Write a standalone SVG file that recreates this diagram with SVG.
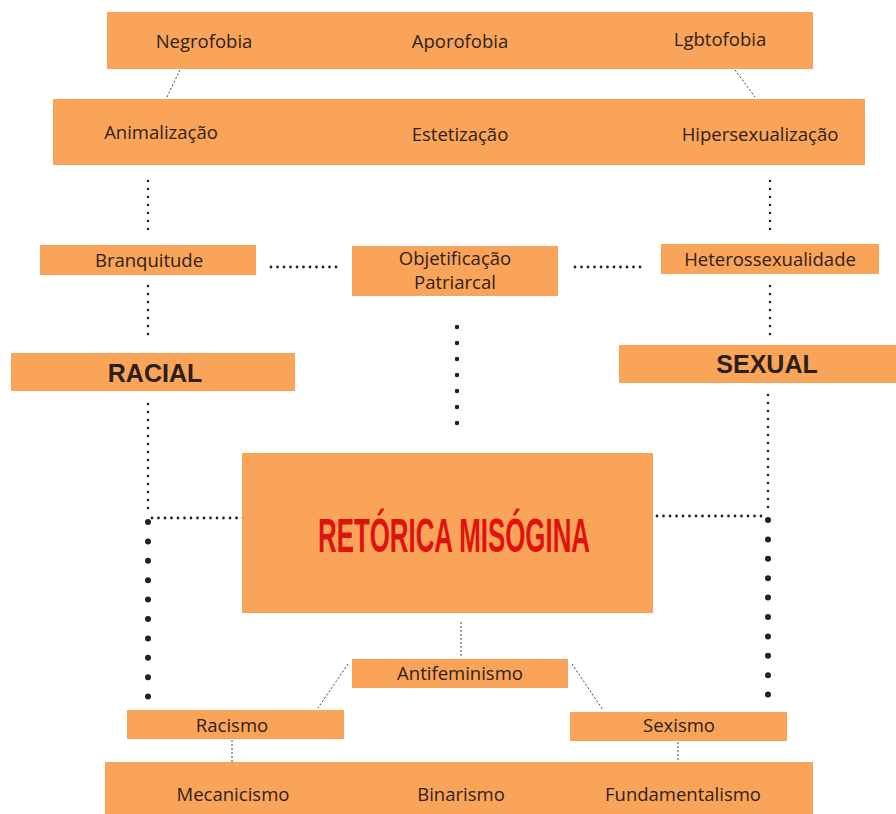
<svg xmlns="http://www.w3.org/2000/svg" width="896" height="814" viewBox="0 0 896 814">
<style>
.box{fill:#FAA45A}
.t{font-family:"Open Sans","Liberation Sans",sans-serif;font-size:18.5px;fill:#2e2218;text-anchor:middle}
.big{font-family:"Liberation Sans",Arial,sans-serif;font-weight:bold;font-size:25px;fill:#2a2018;text-anchor:middle}
.thin{stroke:#444;stroke-width:1;stroke-dasharray:2 2;fill:none}
.sm{stroke:#222;stroke-width:2.6;stroke-linecap:round;stroke-dasharray:0 8;fill:none}
.smh{stroke:#222;stroke-width:2.8;stroke-linecap:round;stroke-dasharray:0 6.5;fill:none}
.md{stroke:#222;stroke-width:4.5;stroke-linecap:round;stroke-dasharray:0 16;fill:none}
.lg{stroke:#222;stroke-width:6;stroke-linecap:round;stroke-dasharray:0 19.4;fill:none}
</style>
<rect width="896" height="814" fill="#ffffff"/>
<g id="connectors">
<line class="thin" x1="180" y1="70" x2="167" y2="97"/>
<line class="thin" x1="735" y1="70" x2="755" y2="97"/>
<line class="sm" x1="148" y1="181" x2="148" y2="231"/>
<line class="sm" x1="770" y1="181" x2="770" y2="231"/>
<line class="smh" x1="271" y1="267" x2="339" y2="267"/>
<line class="smh" x1="575" y1="267" x2="642" y2="267"/>
<line class="sm" x1="148" y1="286" x2="148" y2="336"/>
<line class="sm" x1="770" y1="286" x2="770" y2="336"/>
<line class="md" x1="457" y1="327" x2="457" y2="424"/>
<line class="sm" x1="148" y1="404" x2="148" y2="514"/>
<line class="smh" x1="152" y1="518" x2="244" y2="518"/>
<line class="lg" x1="148" y1="522" x2="148" y2="698"/>
<line class="sm" x1="768" y1="395" x2="768" y2="513"/>
<line class="smh" x1="657" y1="516" x2="764" y2="516"/>
<line class="lg" x1="768" y1="520" x2="768" y2="696"/>
<line class="thin" x1="461" y1="622" x2="461" y2="656"/>
<line class="thin" x1="348" y1="664" x2="318" y2="708"/>
<line class="thin" x1="572" y1="664" x2="603" y2="710"/>
<line class="thin" x1="232" y1="740" x2="232" y2="762"/>
<line class="thin" x1="678" y1="742" x2="678" y2="762"/>
</g>
<g id="top"><rect class="box" x="107" y="12" width="706" height="57"/>
<text class="t" x="204" y="48">Negrofobia</text><text class="t" x="460" y="48">Aporofobia</text><text class="t" x="720" y="46">Lgbtofobia</text></g>
<g id="second"><rect class="box" x="53" y="99" width="812" height="66"/>
<text class="t" x="161" y="139">Animalização</text><text class="t" x="460" y="141">Estetização</text><text class="t" x="760" y="141">Hipersexualização</text></g>
<g id="branquitude"><rect class="box" x="40" y="245" width="216" height="30"/><text class="t" x="149" y="267">Branquitude</text></g>
<g id="objetificacao"><rect class="box" x="352" y="246" width="206" height="50"/><text class="t" x="455" y="265">Objetificação</text><text class="t" x="455" y="289">Patriarcal</text></g>
<g id="hetero"><rect class="box" x="661" y="244" width="218" height="30"/><text class="t" x="770" y="266">Heterossexualidade</text></g>
<g id="racial"><rect class="box" x="11" y="353" width="284" height="38"/><text class="big" x="155" y="382">RACIAL</text></g>
<g id="sexual"><rect class="box" x="619" y="345" width="277" height="38"/><text class="big" x="767" y="373">SEXUAL</text></g>
<g id="retorica"><rect class="box" x="242" y="453" width="411" height="160"/>
<text x="318" y="552" font-family="'Liberation Sans',Arial,sans-serif" font-weight="bold" font-size="48" fill="#E0120E" textLength="272" lengthAdjust="spacingAndGlyphs">RETÓRICA MISÓGINA</text></g>
<g id="antifeminismo"><rect class="box" x="352" y="659" width="216" height="29"/><text class="t" x="460" y="680">Antifeminismo</text></g>
<g id="racismo"><rect class="box" x="127" y="710" width="217" height="29"/><text class="t" x="232" y="732">Racismo</text></g>
<g id="sexismo"><rect class="box" x="570" y="712" width="217" height="29"/><text class="t" x="679" y="732">Sexismo</text></g>
<g id="bottom"><rect class="box" x="105" y="762" width="708" height="52"/>
<text class="t" x="233" y="801">Mecanicismo</text><text class="t" x="461" y="801">Binarismo</text><text class="t" x="683" y="801">Fundamentalismo</text></g>
</svg>
